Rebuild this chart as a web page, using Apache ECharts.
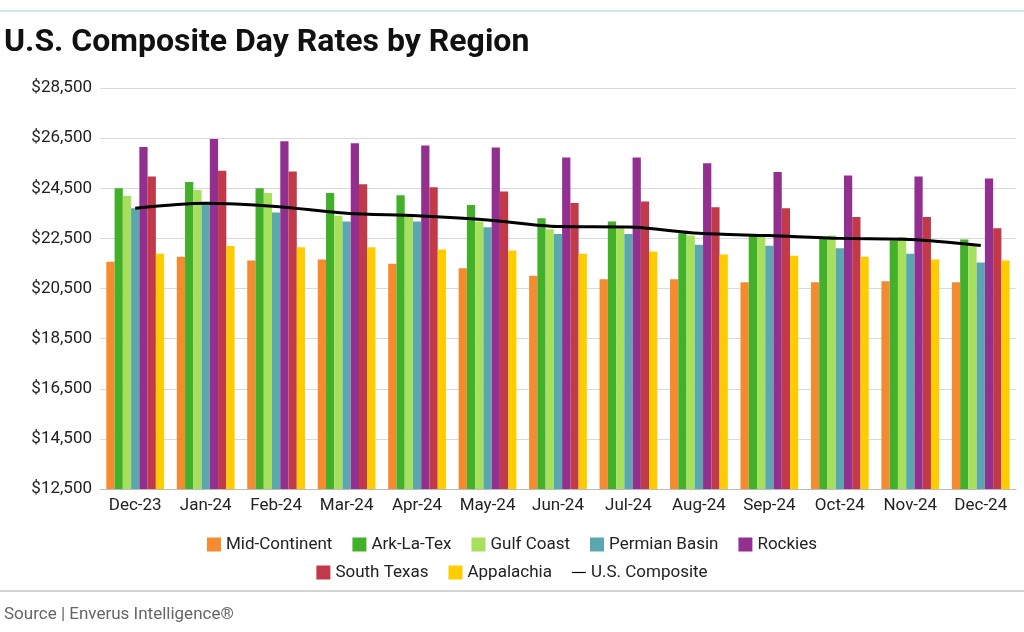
<!DOCTYPE html>
<html><head><meta charset="utf-8">
<script src="https://cdn.jsdelivr.net/npm/echarts@6/dist/echarts.min.js"></script>
<style>html,body{margin:0;padding:0;background:#fff;}#c{width:1024px;height:632px;}</style>
</head><body><div id="c"></div>
<script>
const categories=['Dec-23','Jan-24','Feb-24','Mar-24','Apr-24','May-24','Jun-24','Jul-24','Aug-24','Sep-24','Oct-24','Nov-24','Dec-24'];
const midContinent=[21570,21770,21620,21660,21490,21310,21010,20870,20870,20750,20750,20790,20750];
const arkLaTex=[24500,24750,24500,24310,24220,23830,23300,23170,22700,22650,22540,22420,22460];
const gulfCoast=[24200,24430,24310,23400,23370,23170,22860,22900,22610,22610,22610,22550,22210];
const permianBasin=[23700,23900,23530,23170,23170,22940,22670,22670,22250,22210,22110,21890,21540];
const rockies=[26150,26470,26380,26300,26210,26130,25730,25730,25500,25150,25010,24970,24890];
const southTexas=[24970,25200,25170,24660,24540,24370,23910,23970,23740,23700,23350,23350,22900];
const appalachia=[21890,22200,22150,22150,22060,22020,21890,21980,21860,21810,21770,21660,21620];
const usComposite=[23700,23900,23770,23500,23400,23230,22970,22950,22700,22610,22500,22460,22220];
const yTicks={min:12500,max:28500,interval:2000};
const F='Roboto, "Noto Sans", sans-serif';
const bar=(name,data,color)=>({name,type:'bar',data,itemStyle:{color},barGap:'0%',barCategoryGap:'18%'});
const lt={fontFamily:F,fontSize:17,color:'#222'};
const chart=echarts.init(document.getElementById('c'));
chart.setOption({
  animation:false,
  graphic:[
    {type:'line',shape:{x1:0,y1:11,x2:1024,y2:11},style:{stroke:'#a8cfd3',lineWidth:1}},
    {type:'line',shape:{x1:0,y1:591,x2:1024,y2:591},style:{stroke:'#aaaaaa',lineWidth:1}},
    {type:'text',left:4,top:27,style:{text:'U.S. Composite Day Rates by Region',font:'bold 32px '+F,fill:'#111'}},
    {type:'text',left:4,top:606,style:{text:'Source | Enverus Intelligence®',font:'17px '+F,fill:'#666'}}
  ],
  grid:{left:100,right:8,top:88,bottom:143},
  legend:[
    {top:531,left:'center',itemWidth:14,itemHeight:14,itemGap:20,textStyle:lt,
     data:[{name:'Mid-Continent',icon:'rect'},{name:'Ark-La-Tex',icon:'rect'},{name:'Gulf Coast',icon:'rect'},{name:'Permian Basin',icon:'rect'},{name:'Rockies',icon:'rect'}]},
    {top:559,left:'center',itemWidth:14,itemHeight:14,itemGap:20,textStyle:lt,
     data:[{name:'South Texas',icon:'rect'},{name:'Appalachia',icon:'rect'},{name:'U.S. Composite',icon:'path://M0,6 L30,6 L30,8.5 L0,8.5 Z',itemStyle:{color:'#000'}}]}
  ],
  xAxis:{type:'category',data:categories,axisTick:{show:false},axisLine:{lineStyle:{color:'#bbb'}},
    axisLabel:{fontFamily:F,fontSize:17,color:'#222',margin:8,interval:0}},
  yAxis:{type:'value',min:yTicks.min,max:yTicks.max,interval:yTicks.interval,
    axisLabel:{fontFamily:F,fontSize:17,color:'#222',formatter:v=>'$'+v.toLocaleString('en-US')},
    splitLine:{lineStyle:{color:'#d9d9d9'}}},
  series:[
    bar('Mid-Continent',midContinent,'#f58b2e'),
    bar('Ark-La-Tex',arkLaTex,'#43b02a'),
    bar('Gulf Coast',gulfCoast,'#a6e05c'),
    bar('Permian Basin',permianBasin,'#5ba7b0'),
    bar('Rockies',rockies,'#93308f'),
    bar('South Texas',southTexas,'#c2394a'),
    bar('Appalachia',appalachia,'#ffcc00'),
    {name:'U.S. Composite',type:'line',data:usComposite,symbol:'none',smooth:0.3,lineStyle:{color:'#000',width:3},itemStyle:{color:'#000'},z:10}
  ]
});
</script></body></html>
